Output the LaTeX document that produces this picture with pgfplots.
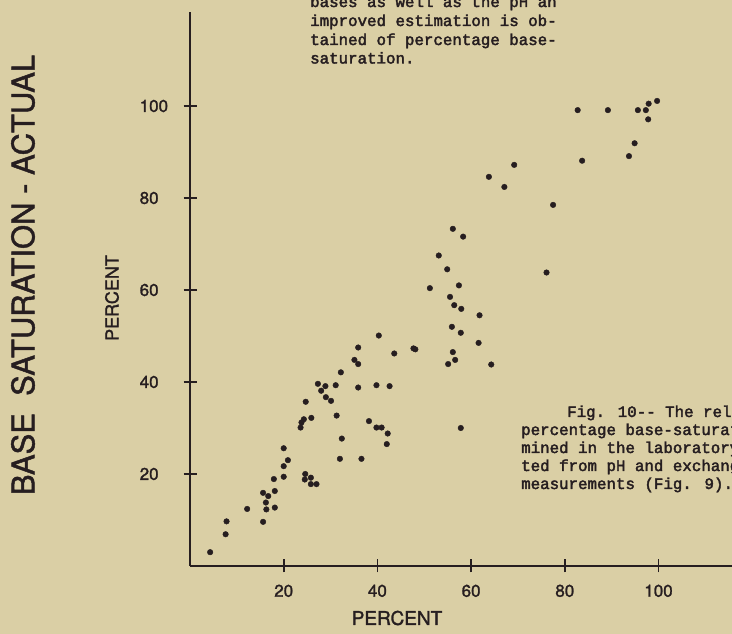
\documentclass[border=0pt]{standalone}
\usepackage{pgfplots}
\pgfplotsset{compat=1.18}
\usepackage{fontspec}
\setmainfont{TeX Gyre Heros}
\newfontfamily\lab{TeX Gyre Heros}[FakeBold=1.5]
\newfontfamily\tw{Liberation Mono}[FakeBold=2.5]
\definecolor{bgc}{RGB}{218,207,165}
\definecolor{ink}{RGB}{38,30,32}
\begin{document}
\begin{tikzpicture}[x=1pt,y=1pt]
\useasboundingbox (0,0) rectangle (732,634);
\clip (0,0) rectangle (732,634);
\fill[bgc] (0,0) rectangle (732,634);
\begin{axis}[
  at={(190pt,68pt)}, anchor=south west,
  x=4.685pt, y=4.6pt,
  xmin=0, xmax=120, ymin=0, ymax=120.5,
  axis x line=bottom, axis y line=left,
  axis line style={-, line width=2.4pt, ink},
  x axis line style={-}, y axis line style={-},
  xtick={20,40,60,80,100}, ytick={20,40,60,80,100},
  tick align=center, major tick length=13pt,
  tick style={line width=1.8pt, ink},
  ticklabel style={font=\lab\fontsize{17}{17}\selectfont, text=ink, inner sep=0pt},
  /pgf/number format/assume math mode=true,
  xticklabel style={yshift=-12pt},
  yticklabel style={anchor=west, xshift=-44pt},
  clip=false,
]
\addplot[only marks, mark=*, mark size=2.8pt, color=ink] table {
x y
4.3 3.0
7.6 6.9
7.8 9.7
12.2 12.4
15.6 9.6
16.3 12.3
18.1 12.7
16.2 13.8
15.6 15.9
16.7 15.2
18.1 16.3
17.9 18.9
20.0 19.4
20.0 21.7
20.9 23.0
20.0 25.6
24.6 20.0
24.5 18.8
25.8 19.2
25.8 17.8
27.0 17.8
23.6 30.1
23.8 31.2
24.3 31.9
25.9 32.2
24.7 35.7
29.0 36.7
30.1 35.9
27.3 39.6
28.9 39.1
28.0 38.1
31.1 39.3
31.3 32.7
32.4 27.7
32.0 23.3
32.2 42.1
35.1 44.8
35.9 43.9
35.9 47.5
35.9 38.8
36.6 23.3
38.2 31.5
39.8 39.3
40.3 50.1
39.8 30.1
40.9 30.1
42.2 28.8
42.0 26.5
42.6 39.1
43.6 46.2
47.7 47.3
48.1 47.1
51.2 60.4
53.1 67.5
54.9 64.5
55.5 58.5
56.4 56.7
57.9 55.9
57.4 61.0
56.1 73.3
58.3 71.6
61.8 54.5
55.9 52.0
57.8 50.7
61.6 48.5
56.1 46.5
56.6 44.8
55.1 43.9
64.3 43.8
57.8 30.0
63.8 84.6
67.1 82.4
69.2 87.2
77.5 78.5
76.1 63.8
82.75 99.1
89.2 99.1
83.7 88.1
93.7 89.1
94.9 91.9
95.6 99.1
97.3 99.1
97.9 100.5
99.7 101.1
97.8 97.1
};
\end{axis}
% axis titles
\node[rotate=90, text=ink, font=\lab\fontsize{31}{31}\selectfont] at (23,359) {BASE\ \ SATURATION - ACTUAL};
\node[rotate=90, text=ink, font=\lab\fontsize{18}{18}\selectfont] at (112,336) {PERCENT};
\node[text=ink, font=\lab\fontsize{19}{19}\selectfont] at (397,16) {PERCENT};
% typewritten notes
\begin{scope}[every node/.style={anchor=base west, inner sep=0pt, text=ink, font=\tw\fontsize{15.8}{15.8}\selectfont}]
\node at (310,627) {bases as well as the pH an};
\node at (310,608) {improved estimation is ob-};
\node at (310,589) {tained of percentage base-};
\node at (310,570.5) {saturation.};
\node at (567,217) {Fig. 10-- The relation between};
\node at (521,199) {percentage base-saturation deter-};
\node at (521,181) {mined in the laboratory and compu-};
\node at (521,163) {ted from pH and exchangeable bases};
\node at (521,145) {measurements (Fig. 9).};
\end{scope}
\end{tikzpicture}
\end{document}
